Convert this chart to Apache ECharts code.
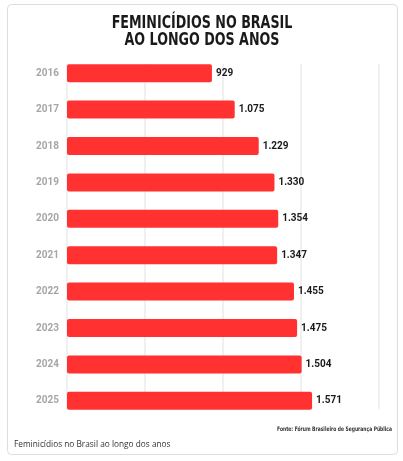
<!DOCTYPE html>
<html>
<head>
<meta charset="utf-8">
<script src="https://cdn.jsdelivr.net/npm/echarts@6/dist/echarts.min.js"></script>
<style>
  html, body { margin: 0; padding: 0; background: #fff; }
  #chart { width: 403px; height: 461px; }
</style>
</head>
<body>
<div id="chart"></div>
<script>
var anos = ['2016', '2017', '2018', '2019', '2020', '2021', '2022', '2023', '2024', '2025'];
var casos = [929, 1075, 1229, 1330, 1354, 1347, 1455, 1475, 1504, 1571];
var eixoMin = 0, eixoMax = 2000, eixoPasso = 500;

var condensada = '"DejaVu Sans Condensed", Roboto, sans-serif';

function milhar(v) {
	return String(v).replace(/\B(?=(\d{3})+(?!\d))/g, '.');
}

var myChart = echarts.init(document.getElementById('chart'));
var option = {
	backgroundColor: '#fff',
	animation: false,
	graphic: [{
		type: 'rect',
		shape: { x: 7.5, y: 4.5, width: 390, height: 450, r: 4 },
		style: { fill: 'none', stroke: '#dddddd', lineWidth: 1 },
		z: 0
	}, {
		// titulo, fonte condensada "na mao"
		type: 'text',
		x: 202,
		y: 15,
		scaleX: 0.83,
		style: {
			text: 'FEMINICÍDIOS NO BRASIL\nAO LONGO DOS ANOS',
			font: 'bold 17px ' + condensada,
			lineHeight: 17,
			align: 'center',
			verticalAlign: 'top',
			fill: '#1a1a1a'
		}
	}, {
		type: 'text',
		x: 392,
		y: 426.5,
		scaleX: 0.8,
		style: {
			text: 'Fonte: Fórum Brasileiro de Segurança Pública',
			font: 'bold 6.2px ' + condensada,
			align: 'right',
			verticalAlign: 'top',
			fill: '#333'
		}
	}, {
		type: 'text',
		x: 14,
		y: 440.5,
		style: {
			text: 'Feminicídios no Brasil ao longo dos anos',
			font: '8.3px "Open Sans", "Noto Sans", sans-serif',
			verticalAlign: 'top',
			fill: '#333'
		}
	}],
	grid: [
		{ left: 67, width: 312, top: 55, height: 364 },
		{ left: 67, width: 312, top: 64, height: 345 }
	],
	xAxis: [{
		type: 'value',
		gridIndex: 0,
		min: eixoMin,
		max: eixoMax,
		interval: eixoPasso,
		axisLabel: { show: false },
		axisLine: { show: false },
		axisTick: { show: false },
		splitLine: { show: false }
	}, {
		type: 'value',
		gridIndex: 1,
		min: eixoMin,
		max: eixoMax,
		interval: eixoPasso,
		axisLabel: { show: false },
		axisLine: { show: false },
		axisTick: { show: false },
		splitLine: { show: true, lineStyle: { color: '#ebebeb', width: 1.5 } }
	}],
	yAxis: [{
		type: 'category',
		gridIndex: 0,
		inverse: true,
		data: anos,
		axisLine: { show: false },
		axisTick: { show: false },
		axisLabel: {
			margin: 8,
			color: '#a6a6a6',
			fontWeight: 'bold',
			fontSize: 10,
			fontFamily: 'Roboto, sans-serif'
		}
	}, {
		type: 'category',
		gridIndex: 1,
		data: anos,
		show: false
	}],
	series: [{
		type: 'bar',
		xAxisIndex: 0,
		yAxisIndex: 0,
		data: casos,
		barWidth: 18,
		itemStyle: { color: '#ff3131', borderRadius: 2 },
		label: {
			show: true,
			position: 'right',
			distance: 4,
			color: '#1a1a1a',
			fontWeight: 'bold',
			fontSize: 10,
			fontFamily: 'Roboto, sans-serif',
			formatter: function(p) { return milhar(p.value); }
		}
	}]
};
myChart.setOption(option);
window.onresize = function() {
	myChart.resize();
};
</script>
</body>
</html>
